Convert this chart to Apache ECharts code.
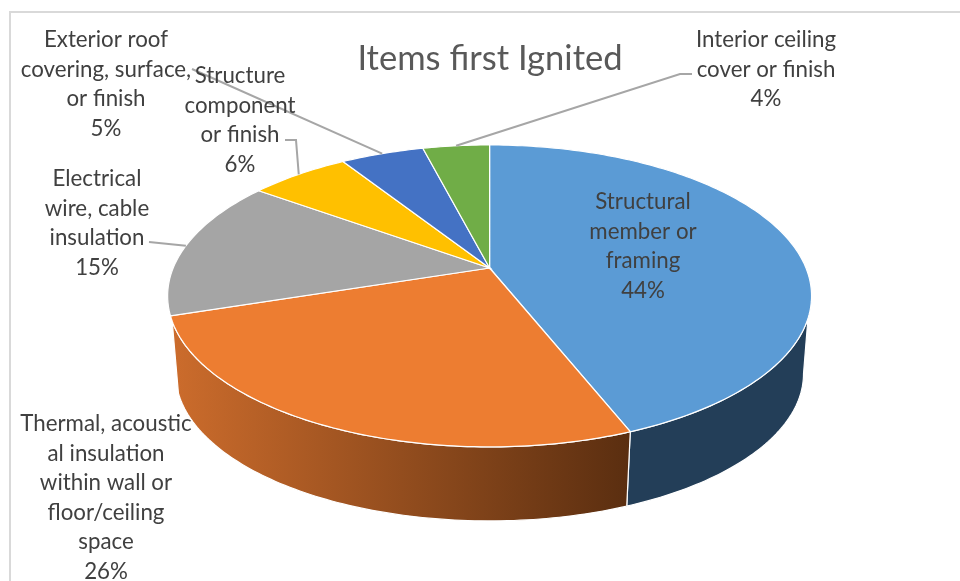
<!DOCTYPE html>
<html>
<head>
<meta charset="utf-8">
<style>html,body{margin:0;padding:0;background:#fff}#chart{width:960px;height:581px}</style>
<script src="https://cdn.jsdelivr.net/npm/echarts@6/dist/echarts.min.js"></script>
</head>
<body>
<div id="chart"></div>
<script>
// Share of fires by item first ignited, in percent.
const categories = [
  'Structural\nmember or\nframing',
  'Thermal, acoustic\nal insulation\nwithin wall or\nfloor/ceiling\nspace',
  'Electrical\nwire, cable\ninsulation',
  'Structure\ncomponent\nor finish',
  'Exterior roof\ncovering, surface,\nor finish',
  'Interior ceiling\ncover or finish'
];
const values = [44, 26, 15, 6, 5, 4];
const topColors = ['#5B9BD5', '#ED7D31', '#A5A5A5', '#FFC000', '#4472C4', '#70AD47'];

// Label anchors: centre x and first-line centre y; elbow is the leader's start run.
const labelLayout = [
  { x: 643, y: 202 },
  { x: 106, y: 424 },
  { x: 97,  y: 179, leader: [[149, 242]] },
  { x: 240, y: 76,  leader: [[285, 140], [296, 140]] },
  { x: 106, y: 40,  leader: [[192, 69]] },
  { x: 766, y: 40,  leader: [[692, 74], [680, 74]] }
];

// Perspective disc: a unit circle projected onto the page.
const disc = { cx: 489.6, apexY: 268, scaleX: 316.4, scaleY: 145.8, tilt: -0.185 };
const floor = { shrink: 0.975, apexY: 346.5 };
const topRimVisible = [109, 250];
const floorRimVisible = [100.7, 259.3];
const LINE_H = 29.5;

function rim(deg, lower) {
  const t = deg * Math.PI / 180;
  const u = Math.sin(t), v = -Math.cos(t);
  const d = 1 + disc.tilt * v;
  const dx = disc.scaleX * u / d, dy = disc.scaleY * v / d;
  return lower
    ? [disc.cx + dx * floor.shrink, floor.apexY + dy * floor.shrink]
    : [disc.cx + dx, disc.apexY + dy];
}
function arc(from, to, lower) {
  const pts = [];
  const n = Math.max(2, Math.ceil(Math.abs(to - from)));
  for (let i = 0; i <= n; i++) pts.push(rim(from + (to - from) * i / n, lower));
  return pts;
}
function sideFill(i) {
  if (i === 1) {
    return new echarts.graphic.LinearGradient(0, 0, 1, 0, [
      { offset: 0, color: '#CC6C2C' },
      { offset: 1, color: '#5A2E10' }
    ]);
  }
  return '#233E58';
}

const total = values.reduce((a, b) => a + b, 0);

function renderSlice(params, api) {
  const i = params.dataIndex;
  let before = 0;
  for (let k = 0; k < i; k++) before += values[k];
  const start = before / total * 360;
  const sweep = api.value(0) / total * 360;
  const end = start + sweep;
  const mid = start + sweep / 2;
  const children = [];

  // Visible wall below the rim.
  const ta = Math.max(start, topRimVisible[0]), tb = Math.min(end, topRimVisible[1]);
  const fa = Math.max(start, floorRimVisible[0]), fb = Math.min(end, floorRimVisible[1]);
  if (tb > ta && fb > fa) {
    children.push({
      type: 'polygon',
      z2: 1,
      shape: { points: arc(ta, tb, false).concat(arc(fb, fa, true)) },
      style: { fill: sideFill(i), stroke: '#fff', lineWidth: 1.2 }
    });
  }

  // Top surface wedge.
  children.push({
    type: 'polygon',
    z2: 2,
    shape: { points: [[disc.cx, disc.apexY]].concat(arc(start, end, false)) },
    style: { fill: topColors[i], stroke: '#fff', lineWidth: 1.2 }
  });

  const lay = labelLayout[i];
  if (lay.leader) {
    children.push({
      type: 'polyline',
      z2: 3,
      shape: { points: lay.leader.concat([rim(mid, false)]) },
      style: { fill: null, stroke: '#A6A6A6', lineWidth: 2 }
    });
  }
  children.push({
    type: 'text',
    z2: 4,
    x: lay.x,
    y: lay.y - LINE_H / 2,
    style: {
      text: categories[i] + '\n' + api.value(0) + '%',
      font: '22.3px Lato, Carlito, sans-serif',
      fill: '#404040',
      align: 'center',
      verticalAlign: 'top',
      lineHeight: LINE_H
    }
  });
  return { type: 'group', children };
}

const chart = echarts.init(document.getElementById('chart'), null, { renderer: 'canvas' });
chart.setOption({
  animation: false,
  backgroundColor: '#fff',
  title: {
    text: 'Items first Ignited',
    left: 485,
    top: 36,
    textAlign: 'center',
    textStyle: { fontFamily: 'Lato, Carlito, sans-serif', fontSize: 34.6, fontWeight: 'normal', color: '#595959' }
  },
  graphic: [{
    type: 'rect',
    silent: true,
    shape: { x: 10, y: 12, width: 980, height: 600 },
    style: { fill: null, stroke: '#D9D9D9', lineWidth: 2 }
  }],
  series: [{
    type: 'custom',
    coordinateSystem: 'none',
    silent: true,
    data: values.map(v => [v]),
    renderItem: renderSlice
  }]
});
</script>
</body>
</html>
